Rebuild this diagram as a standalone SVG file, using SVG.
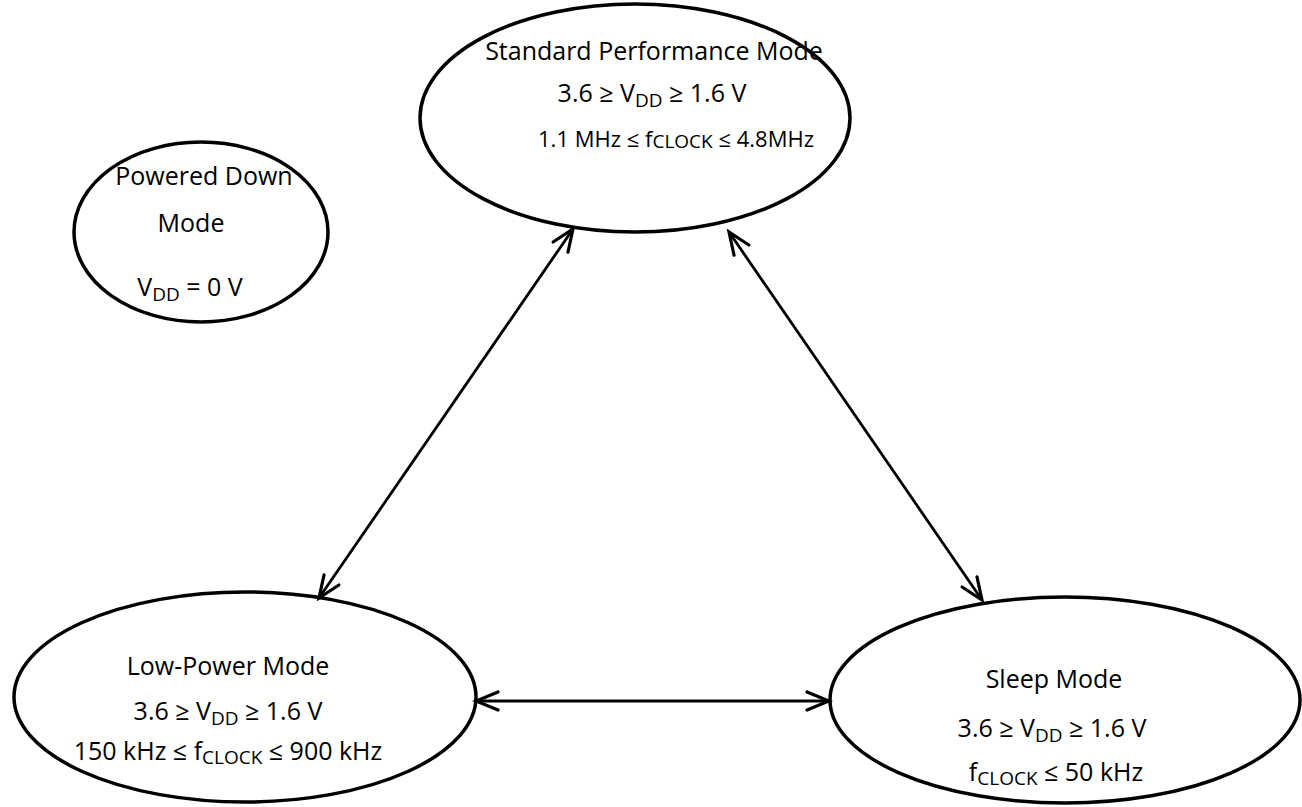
<svg xmlns="http://www.w3.org/2000/svg" width="1302" height="807" viewBox="0 0 1302 807">
<style>
.node{fill:#fff;stroke:#000;stroke-width:3.5}
.t{font-family:"Open Sans","Liberation Sans",sans-serif;font-size:25px;fill:#000;text-anchor:middle}
.s{font-size:19px}
.conn line{stroke:#000;stroke-width:2.8;fill:none}
</style>
<defs>
<marker id="ah" markerUnits="userSpaceOnUse" viewBox="-28 -14 32 28" markerWidth="32" markerHeight="28" refX="0" refY="0" orient="auto-start-reverse">
<path d="M-22,-9 L0,0 L-22,9" fill="none" stroke="#000" stroke-width="3.2" stroke-linecap="round" stroke-linejoin="miter"/>
</marker>
</defs>
<rect width="1302" height="807" fill="#fff"/>
<g id="standard">
<ellipse class="node" cx="635" cy="118" rx="215" ry="114"/>
<text class="t" x="654" y="60">Standard Performance Mode</text>
<text class="t" x="652" y="102">3.6 ≥ V<tspan class="s" dy="5">DD</tspan><tspan dy="-5"> ≥ 1.6 V</tspan></text>
<text class="t" x="676" y="147" style="font-size:22px">1.1 MHz ≤ f<tspan style="font-size:19px" dy="1">CLOCK</tspan><tspan dy="-1"> ≤ 4.8MHz</tspan></text>
</g>
<g id="powered-down">
<ellipse class="node" cx="201" cy="232" rx="127" ry="90"/>
<text class="t" x="204" y="185">Powered Down</text>
<text class="t" x="191" y="232">Mode</text>
<text class="t" x="190" y="296">V<tspan class="s" dy="5">DD</tspan><tspan dy="-5"> = 0 V</tspan></text>
</g>
<g id="low-power">
<ellipse class="node" cx="245" cy="697" rx="231" ry="105"/>
<text class="t" x="228" y="675">Low-Power Mode</text>
<text class="t" x="228" y="720">3.6 ≥ V<tspan class="s" dy="5">DD</tspan><tspan dy="-5"> ≥ 1.6 V</tspan></text>
<text class="t" x="228" y="760">150 kHz ≤ f<tspan class="s" dy="4">CLOCK</tspan><tspan dy="-4"> ≤ 900 kHz</tspan></text>
</g>
<g id="sleep">
<ellipse class="node" cx="1065" cy="700" rx="235" ry="103"/>
<text class="t" x="1054" y="688">Sleep Mode</text>
<text class="t" x="1052" y="737">3.6 ≥ V<tspan class="s" dy="5">DD</tspan><tspan dy="-5"> ≥ 1.6 V</tspan></text>
<text class="t" x="1056" y="781">f<tspan class="s" dy="4">CLOCK</tspan><tspan dy="-4"> ≤ 50 kHz</tspan></text>
</g>
<g id="connectors" class="conn">
<line x1="573" y1="229" x2="319" y2="598" marker-start="url(#ah)" marker-end="url(#ah)"/>
<line x1="729" y1="232" x2="982" y2="600" marker-start="url(#ah)" marker-end="url(#ah)"/>
<line x1="476" y1="701" x2="829" y2="701" marker-start="url(#ah)" marker-end="url(#ah)"/>
</g>
</svg>
